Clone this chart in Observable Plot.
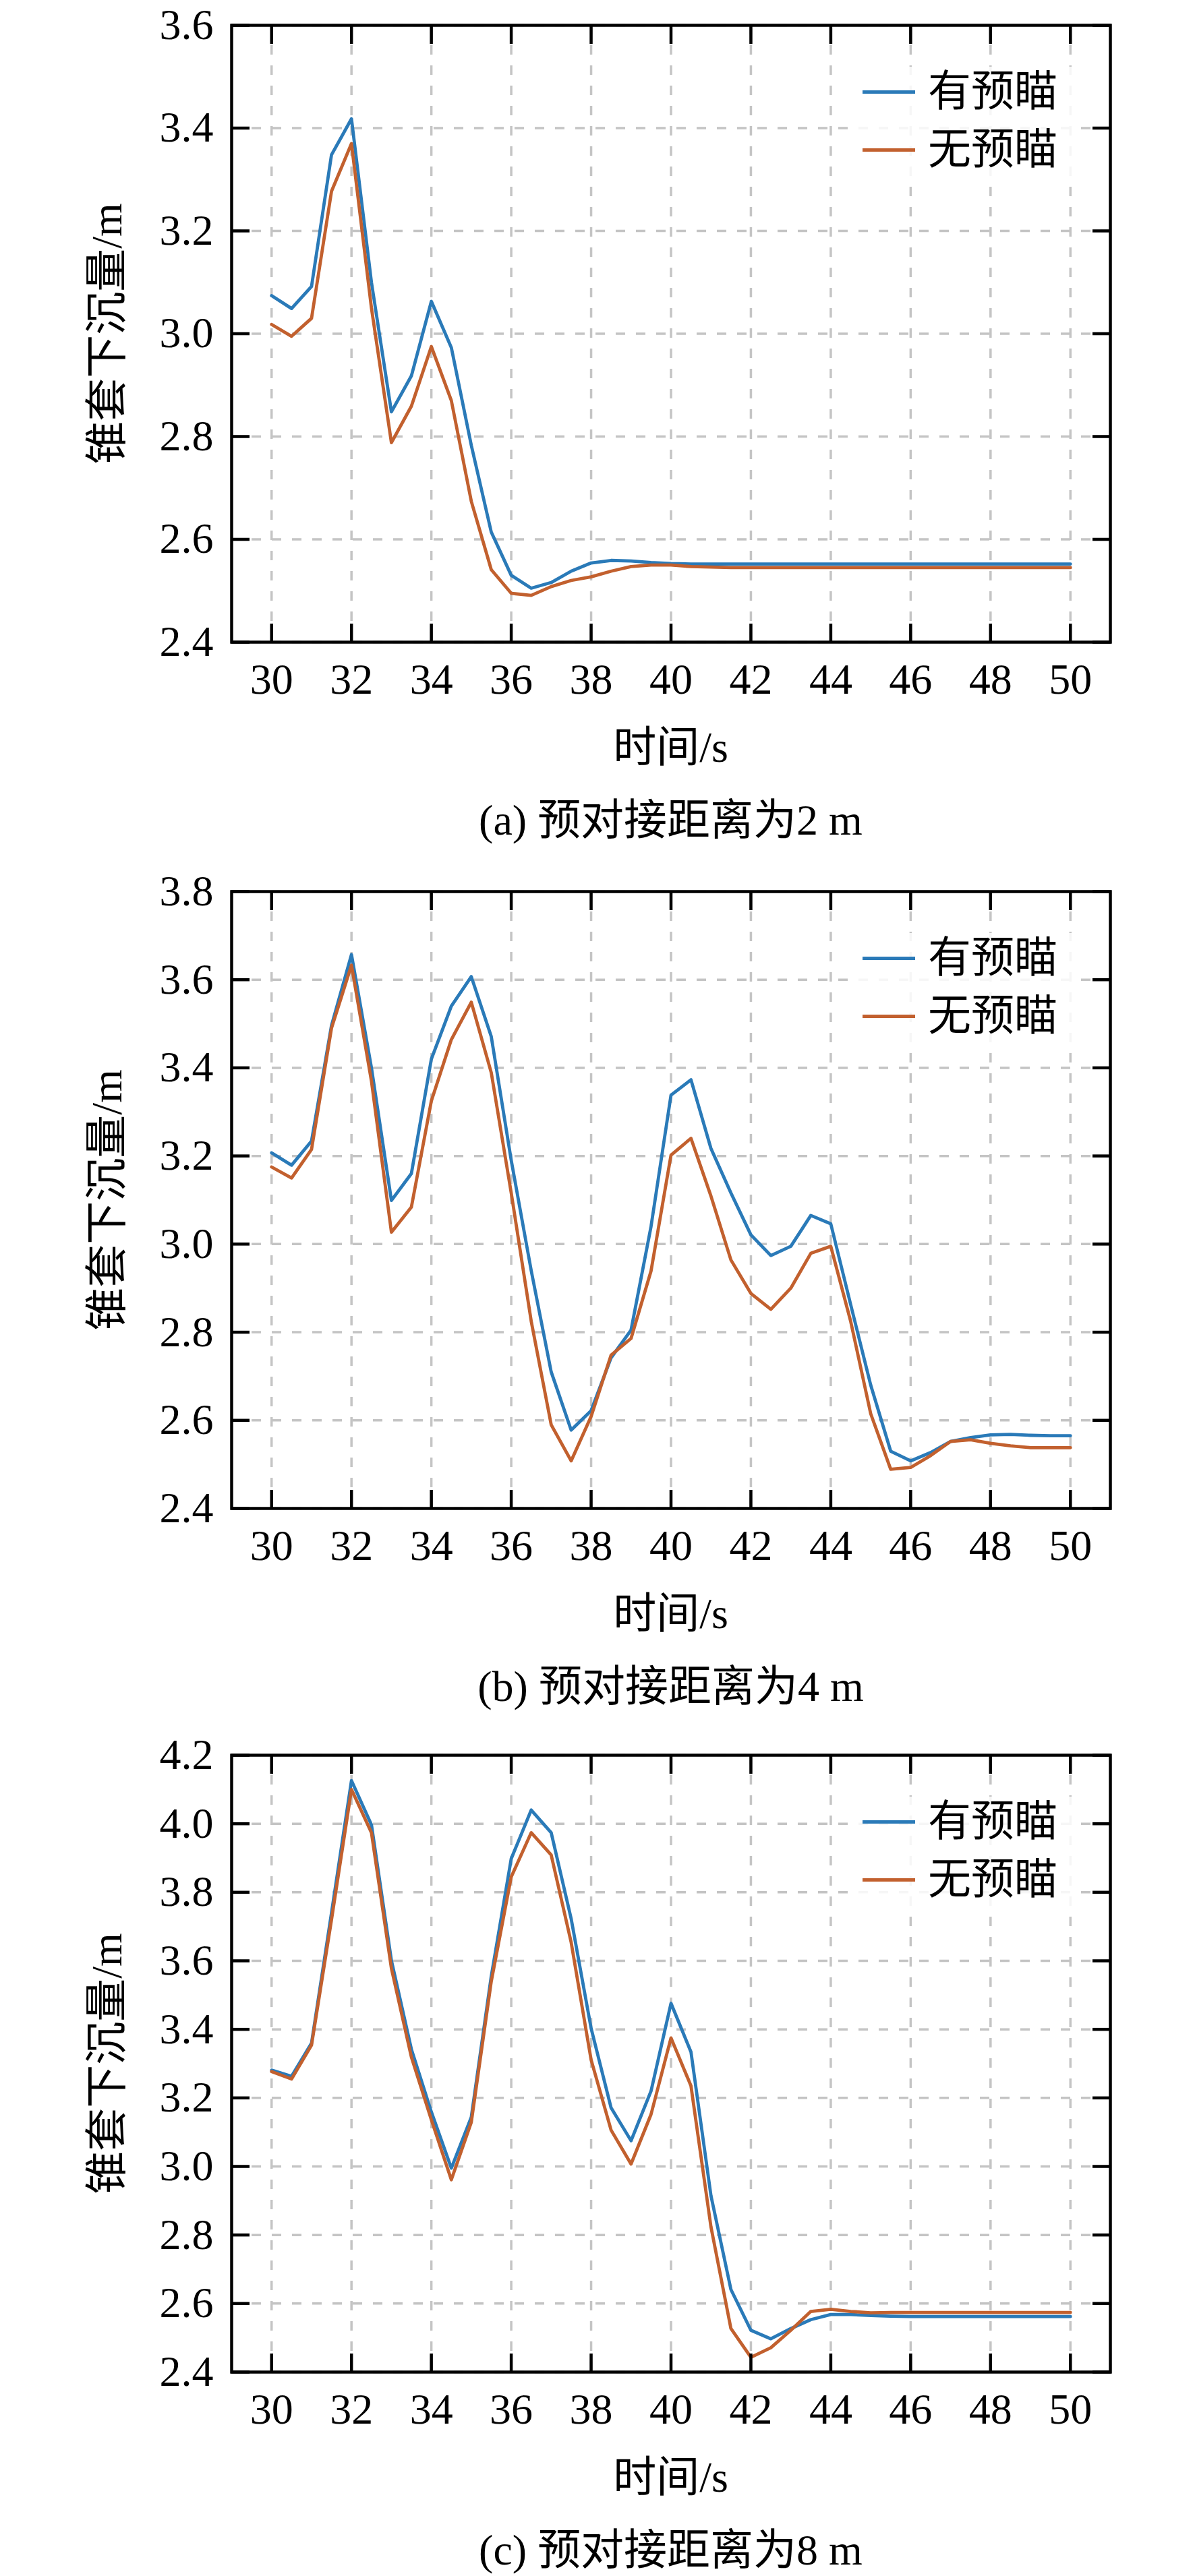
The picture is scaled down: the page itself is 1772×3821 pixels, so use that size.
<!DOCTYPE html>
<html>
<head>
<meta charset="utf-8">
<script src="https://cdn.jsdelivr.net/npm/d3@7"></script>
<script src="https://cdn.jsdelivr.net/npm/@observablehq/plot@0.6"></script>
<style>
  body { margin: 0; background: #fff; }
  #root { position: relative; width: 1772px; height: 3821px; overflow: hidden; background: #fff;
          font-family: "Liberation Serif", "Noto Sans CJK SC", serif; color: #000; }
  .panel { position: absolute; left: 0; width: 1772px; }
  .panel svg { overflow: visible; }
  .txt { position: absolute; white-space: nowrap; font-size: 64px; line-height: 1; }
  .legend { position: absolute; background: rgba(255,255,255,0.85); }
  .sw { position: absolute; height: 5px; }
</style>
</head>
<body>
<div id="root"></div>
<script>
// ---------------- data ----------------
const times = [30,30.5,31,31.5,32,32.5,33,33.5,34,34.5,35,35.5,36,36.5,37,37.5,38,38.5,39,39.5,40,
               40.5,41,41.5,42,42.5,43,43.5,44,44.5,45,45.5,46,46.5,47,47.5,48,48.5,49,49.5,50];
const seriesNames = ["有预瞄", "无预瞄"];
const seriesColors = ["#2a7ab8", "#c2602e"];
const xTicks = [30,32,34,36,38,40,42,44,46,48,50];
const xLabel = "时间/s";
const yLabel = "锥套下沉量/m";
const captions = ["(a) 预对接距离为2 m", "(b) 预对接距离为4 m", "(c) 预对接距离为8 m"];

// (a) 2 m
const aWith = [3.074,3.049,3.092,3.348,3.418,3.100,2.848,2.918,3.063,2.973,2.783,2.614,2.530,2.505,2.516,2.538,2.554,2.559,2.558,2.555,2.553,
               2.552,2.552,2.552,2.552,2.552,2.552,2.552,2.552,2.552,2.552,2.552,2.552,2.552,2.552,2.552,2.552,2.552,2.552,2.552,2.552];
const aWithout = [3.018,2.995,3.030,3.277,3.370,3.050,2.788,2.859,2.975,2.870,2.674,2.541,2.495,2.491,2.508,2.520,2.527,2.538,2.547,2.550,2.550,
                  2.547,2.546,2.545,2.545,2.545,2.545,2.545,2.545,2.545,2.545,2.545,2.545,2.545,2.545,2.545,2.545,2.545,2.545,2.545,2.545];
const aYTicks = [2.4,2.6,2.8,3.0,3.2,3.4,3.6];

// (b) 4 m
const bWith = [3.207,3.179,3.234,3.496,3.657,3.400,3.099,3.160,3.420,3.540,3.607,3.471,3.190,2.940,2.710,2.578,2.622,2.742,2.805,3.040,3.338,
               3.373,3.217,3.116,3.021,2.974,2.995,3.065,3.046,2.862,2.680,2.530,2.508,2.527,2.552,2.561,2.567,2.568,2.566,2.565,2.565];
const bWithout = [3.175,3.150,3.215,3.490,3.633,3.370,3.027,3.084,3.325,3.464,3.549,3.389,3.116,2.825,2.590,2.508,2.609,2.748,2.786,2.939,3.202,
                  3.240,3.109,2.964,2.888,2.852,2.900,2.979,2.995,2.824,2.615,2.489,2.493,2.520,2.552,2.556,2.548,2.542,2.538,2.538,2.538];
const bYTicks = [2.4,2.6,2.8,3.0,3.2,3.4,3.6,3.8];

// (c) 8 m
const cWith = [3.281,3.263,3.360,3.740,4.126,3.997,3.601,3.342,3.159,2.995,3.144,3.555,3.898,4.040,3.974,3.723,3.403,3.171,3.075,3.220,3.476,
               3.334,2.915,2.641,2.522,2.497,2.527,2.553,2.568,2.568,2.565,2.563,2.562,2.562,2.562,2.562,2.562,2.562,2.562,2.562,2.562];
const cWithout = [3.277,3.255,3.354,3.720,4.100,3.974,3.578,3.319,3.136,2.961,3.129,3.540,3.845,3.974,3.909,3.654,3.311,3.106,3.007,3.152,3.375,
                  3.235,2.824,2.527,2.443,2.471,2.522,2.577,2.583,2.577,2.573,2.574,2.574,2.574,2.574,2.574,2.574,2.574,2.574,2.574,2.574];
const cYTicks = [2.4,2.6,2.8,3.0,3.2,3.4,3.6,3.8,4.0,4.2];

// ---------------- layout ----------------
const W = 1772;
const mL = 343, mR = 126, mT = 32, frameH = 915, mB = 110;
const panelTops = [5, 1290, 2571];
const root = document.getElementById("root");

function addText(str, left, top, extraStyle) {
  const d = document.createElement("div");
  d.className = "txt";
  d.textContent = str;
  d.style.left = left + "px";
  d.style.top = top + "px";
  d.style.transform = extraStyle || "translate(-50%,-50%)";
  root.appendChild(d);
  return d;
}

function makePanel(idx, withArr, withoutArr, yTicks) {
  const rows = [];
  times.forEach((t, i) => rows.push({t, v: withArr[i], s: seriesNames[0]}));
  times.forEach((t, i) => rows.push({t, v: withoutArr[i], s: seriesNames[1]}));
  const gridStyle = {stroke: "#c4c4c4", strokeOpacity: 1, strokeWidth: 3.5, strokeDasharray: "14,16"};
  const chart = Plot.plot({
    width: W,
    height: mT + frameH + mB,
    marginLeft: mL, marginRight: mR, marginTop: mT, marginBottom: mB,
    style: {fontFamily: '"Liberation Serif", "Noto Sans CJK SC", serif', background: "transparent", color: "#000", overflow: "visible"},
    x: {domain: [29, 51]},
    y: {domain: [yTicks[0], yTicks[yTicks.length - 1]]},
    color: {domain: seriesNames, range: seriesColors},
    marks: [
      Plot.gridX(xTicks, gridStyle),
      Plot.gridY(yTicks, gridStyle),
      Plot.line(rows, {x: "t", y: "v", stroke: "s", z: "s", strokeWidth: 4.8}),
      Plot.frame({stroke: "#000", strokeWidth: 4.5}),
      Plot.axisX(xTicks, {anchor: "bottom", tickSize: -27, tickPadding: 58, strokeWidth: 4.5, fontSize: 64, label: null, tickFormat: d => String(d)}),
      Plot.axisX(xTicks, {anchor: "top", tickSize: -27, strokeWidth: 4.5, label: null, tickFormat: () => ""}),
      Plot.axisY(yTicks, {anchor: "left", tickSize: -27, tickPadding: 54, strokeWidth: 4.5, fontSize: 64, label: null, tickFormat: d3.format(".1f")}),
      Plot.axisY(yTicks, {anchor: "right", tickSize: -27, strokeWidth: 4.5, label: null, tickFormat: () => ""})
    ]
  });
  const top = panelTops[idx];
  const wrap = document.createElement("div");
  wrap.className = "panel";
  wrap.style.top = top + "px";
  wrap.appendChild(chart);
  root.appendChild(wrap);

  const fTop = top + mT, fBot = fTop + frameH;
  const cx = (mL + (W - mR)) / 2;
  // axis labels and caption
  addText(xLabel, cx, fBot + 157);
  addText(captions[idx], cx, fBot + 265);
  addText(yLabel, 159, (fTop + fBot) / 2, "translate(-50%,-50%) rotate(-90deg)");

  // legend
  const lg = document.createElement("div");
  lg.className = "legend";
  lg.style.left = "1258px"; lg.style.top = (fTop + 62) + "px";
  lg.style.width = "340px"; lg.style.height = "172px";
  root.appendChild(lg);
  seriesNames.forEach((name, k) => {
    const cy = fTop + 99 + k * 86;
    const sw = document.createElement("div");
    sw.className = "sw";
    sw.style.left = "1279px"; sw.style.width = "78px";
    sw.style.top = (cy - 2.5) + "px";
    sw.style.background = seriesColors[k];
    root.appendChild(sw);
    addText(name, 1376, cy, "translate(0,-50%)");
  });
}

makePanel(0, aWith, aWithout, aYTicks);
makePanel(1, bWith, bWithout, bYTicks);
makePanel(2, cWith, cWithout, cYTicks);
</script>
</body>
</html>
